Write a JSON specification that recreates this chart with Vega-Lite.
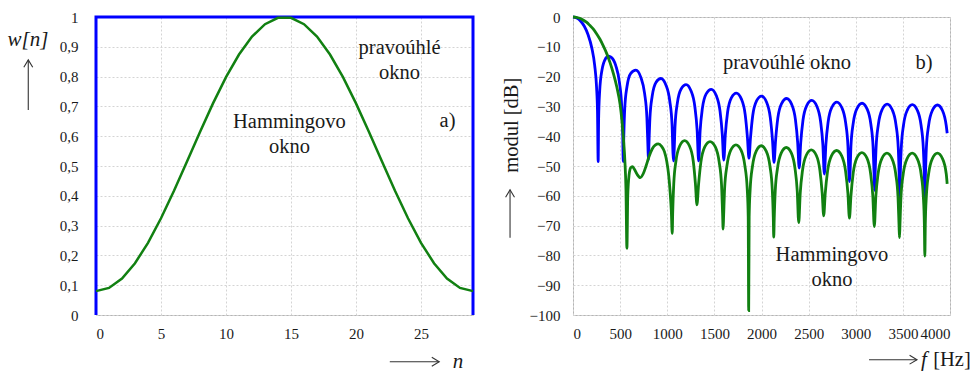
{
"$schema":"https://vega.github.io/schema/vega-lite/v6.json",
"padding":{"left":7,"top":9,"right":0,"bottom":0},
"spacing":21,
"config":{
 "font":"Liberation Serif",
 "view":{"stroke":"#b4b4b4","strokeWidth":1},
 "axis":{"labelFont":"Liberation Serif","labelFontSize":15,"labelColor":"#1a1a1a","labelOverlap":false,"ticks":false,"tickSize":0,"domain":false,"grid":true,"gridColor":"#d4d4d4","gridDash":[2,2],"gridWidth":1},
 "text":{"font":"Liberation Serif","color":"#1a1a1a"}
},
"datasets":{
 "win":[
  {"n":0,"w":0,"s":"r","i":0},{"n":0,"w":1,"s":"r","i":1},{"n":29,"w":1,"s":"r","i":2},{"n":29,"w":0,"s":"r","i":3},
  {"n":0,"w":0.08,"s":"h","i":0},{"n":1,"w":0.0908,"s":"h","i":1},{"n":2,"w":0.1225,"s":"h","i":2},{"n":3,"w":0.1738,"s":"h","i":3},{"n":4,"w":0.2422,"s":"h","i":4},{"n":5,"w":0.3246,"s":"h","i":5},{"n":6,"w":0.4169,"s":"h","i":6},{"n":7,"w":0.5151,"s":"h","i":7},{"n":8,"w":0.6144,"s":"h","i":8},{"n":9,"w":0.7102,"s":"h","i":9},{"n":10,"w":0.7981,"s":"h","i":10},{"n":11,"w":0.874,"s":"h","i":11},{"n":12,"w":0.9342,"s":"h","i":12},{"n":13,"w":0.9759,"s":"h","i":13},{"n":14,"w":0.9973,"s":"h","i":14},{"n":15,"w":0.9973,"s":"h","i":15},{"n":16,"w":0.9759,"s":"h","i":16},{"n":17,"w":0.9342,"s":"h","i":17},{"n":18,"w":0.874,"s":"h","i":18},{"n":19,"w":0.7981,"s":"h","i":19},{"n":20,"w":0.7102,"s":"h","i":20},{"n":21,"w":0.6144,"s":"h","i":21},{"n":22,"w":0.5151,"s":"h","i":22},{"n":23,"w":0.4169,"s":"h","i":23},{"n":24,"w":0.3246,"s":"h","i":24},{"n":25,"w":0.2422,"s":"h","i":25},{"n":26,"w":0.1738,"s":"h","i":26},{"n":27,"w":0.1225,"s":"h","i":27},{"n":28,"w":0.0908,"s":"h","i":28},{"n":29,"w":0.08,"s":"h","i":29}
 ],
 "rect":[
  {"f":0,"db":0},{"f":40,"db":-0.32},{"f":80,"db":-1.33},{"f":120,"db":-3.11},{"f":160,"db":-5.94},{"f":200,"db":-10.45},{"f":230,"db":-16.21},{"f":250,"db":-23.56},{"f":260,"db":-31.8},{"f":267,"db":-48.5},
  {"f":272,"db":-34.1},{"f":283,"db":-24.9},{"f":307,"db":-17.84},{"f":347,"db":-13.87},{"f":373,"db":-13.17},{"f":400,"db":-13.43},{"f":453,"db":-16.26},{"f":493,"db":-22.02},{"f":517,"db":-30.15},{"f":528,"db":-39.84},{"f":533,"db":-48.5},
  {"f":539,"db":-39.98},{"f":549,"db":-30.68},{"f":573,"db":-23.33},{"f":613,"db":-18.88},{"f":667,"db":-17.8},{"f":720,"db":-20.26},{"f":760,"db":-25.74},{"f":784,"db":-33.71},{"f":795,"db":-43.33},{"f":800,"db":-48},
  {"f":805,"db":-43.41},{"f":816,"db":-34.04},{"f":840,"db":-26.59},{"f":880,"db":-21.95},{"f":933,"db":-20.63},{"f":987,"db":-22.91},{"f":1027,"db":-28.26},{"f":1051,"db":-36.15},{"f":1061,"db":-45.74},{"f":1067,"db":-48.3},
  {"f":1072,"db":-45.81},{"f":1083,"db":-36.39},{"f":1107,"db":-28.88},{"f":1147,"db":-24.14},{"f":1200,"db":-22.68},{"f":1253,"db":-24.86},{"f":1293,"db":-30.13},{"f":1317,"db":-37.97},{"f":1333,"db":-48.3},
  {"f":1349,"db":-38.16},{"f":1373,"db":-30.6},{"f":1413,"db":-25.8},{"f":1467,"db":-24.26},{"f":1520,"db":-26.37},{"f":1560,"db":-31.59},{"f":1584,"db":-39.4},{"f":1600,"db":-48},
  {"f":1616,"db":-39.55},{"f":1640,"db":-31.97},{"f":1680,"db":-27.12},{"f":1733,"db":-25.52},{"f":1787,"db":-27.57},{"f":1827,"db":-32.75},{"f":1851,"db":-40.54},{"f":1867,"db":-47.4},
  {"f":1883,"db":-40.66},{"f":1907,"db":-33.05},{"f":1947,"db":-28.18},{"f":2000,"db":-26.53},{"f":2053,"db":-28.54},{"f":2093,"db":-33.69},{"f":2117,"db":-41.46},{"f":2133,"db":-48.8},
  {"f":2149,"db":-41.56},{"f":2173,"db":-33.94},{"f":2213,"db":-29.03},{"f":2267,"db":-27.35},{"f":2320,"db":-29.33},{"f":2360,"db":-34.46},{"f":2384,"db":-42.21},{"f":2400,"db":-50.7},
  {"f":2416,"db":-42.29},{"f":2440,"db":-34.65},{"f":2480,"db":-29.73},{"f":2533,"db":-28.01},{"f":2587,"db":-29.96},{"f":2627,"db":-35.07},{"f":2651,"db":-42.81},{"f":2667,"db":-52.7},
  {"f":2683,"db":-42.87},{"f":2707,"db":-35.23},{"f":2747,"db":-30.28},{"f":2800,"db":-28.54},{"f":2853,"db":-30.47},{"f":2893,"db":-35.55},{"f":2917,"db":-43.28},{"f":2928,"db":-52.8},{"f":2933,"db":-55.2},
  {"f":2939,"db":-52.8},{"f":2949,"db":-43.33},{"f":2973,"db":-35.68},{"f":3013,"db":-30.71},{"f":3067,"db":-28.95},{"f":3120,"db":-30.85},{"f":3160,"db":-35.92},{"f":3184,"db":-43.64},{"f":3195,"db":-53.1},{"f":3200,"db":-58.2},
  {"f":3205,"db":-53.2},{"f":3216,"db":-43.68},{"f":3240,"db":-36.01},{"f":3280,"db":-31.03},{"f":3333,"db":-29.24},{"f":3387,"db":-31.12},{"f":3427,"db":-36.18},{"f":3451,"db":-43.89},{"f":3461,"db":-53.4},{"f":3467,"db":-61.9},
  {"f":3472,"db":-53.4},{"f":3483,"db":-43.91},{"f":3507,"db":-36.23},{"f":3547,"db":-31.24},{"f":3600,"db":-29.43},{"f":3653,"db":-31.29},{"f":3693,"db":-36.33},{"f":3717,"db":-44.03},{"f":3728,"db":-53.5},{"f":3733,"db":-61},
  {"f":3739,"db":-53.5},{"f":3749,"db":-44.05},{"f":3773,"db":-36.37},{"f":3813,"db":-31.36},{"f":3867,"db":-29.53},{"f":3920,"db":-31.38},{"f":3960,"db":-36.4},{"f":3970,"db":-39}
 ],
 "hamm":[
  {"f":0,"db":0},{"f":36,"db":-0.1},{"f":71,"db":-0.43},{"f":107,"db":-1.0},{"f":143,"db":-1.75},{"f":178,"db":-2.8},{"f":214,"db":-4.0},{"f":250,"db":-5.6},{"f":285,"db":-7.4},{"f":320,"db":-9.6},{"f":357,"db":-12.2},{"f":393,"db":-15.3},{"f":428,"db":-18.9},{"f":465,"db":-23.5},{"f":500,"db":-29.4},{"f":520,"db":-35},{"f":537,"db":-41.5},{"f":550,"db":-48},{"f":562,"db":-58},{"f":572,"db":-77.6},
  {"f":581,"db":-60},{"f":595,"db":-53},{"f":612,"db":-50.6},{"f":630,"db":-50.2},{"f":650,"db":-51},{"f":680,"db":-52.8},{"f":714,"db":-53.9},{"f":745,"db":-52.6},{"f":775,"db":-50},{"f":805,"db":-47},{"f":840,"db":-44.3},{"f":872,"db":-43},{"f":905,"db":-42.6},{"f":940,"db":-43.4},{"f":970,"db":-45.2},{"f":995,"db":-48.5},{"f":1015,"db":-53},{"f":1030,"db":-58.5},{"f":1043,"db":-65},{"f":1053,"db":-72.6},
  {"f":1058,"db":-65.5},{"f":1069,"db":-56},{"f":1092,"db":-48.4},{"f":1132,"db":-43.3},{"f":1184,"db":-41.5},{"f":1236,"db":-43.3},{"f":1276,"db":-48.4},{"f":1299,"db":-56},{"f":1315,"db":-63},
  {"f":1332,"db":-56.3},{"f":1357,"db":-48.7},{"f":1398,"db":-43.6},{"f":1454,"db":-41.8},{"f":1510,"db":-43.6},{"f":1551,"db":-48.7},{"f":1576,"db":-56.3},{"f":1587,"db":-65.8},{"f":1593,"db":-71.2},
  {"f":1598,"db":-66.9},{"f":1609,"db":-57.4},{"f":1634,"db":-49.8},{"f":1674,"db":-44.7},{"f":1729,"db":-42.9},{"f":1783,"db":-44.7},{"f":1823,"db":-49.8},{"f":1848,"db":-57.4},{"f":1859,"db":-66.9},{"f":1864,"db":-98.5},
  {"f":1869,"db":-67.2},{"f":1880,"db":-57.7},{"f":1904,"db":-50.1},{"f":1944,"db":-45},{"f":1997,"db":-43.2},{"f":2050,"db":-45},{"f":2090,"db":-50.1},{"f":2114,"db":-57.7},{"f":2125,"db":-67.2},{"f":2130,"db":-73.9},
  {"f":2135,"db":-67.8},{"f":2146,"db":-58.3},{"f":2170,"db":-50.7},{"f":2210,"db":-45.6},{"f":2263,"db":-43.8},{"f":2316,"db":-45.6},{"f":2355,"db":-50.7},{"f":2379,"db":-58.3},{"f":2395,"db":-69},
  {"f":2411,"db":-59.1},{"f":2435,"db":-51.5},{"f":2475,"db":-46.4},{"f":2528,"db":-44.6},{"f":2581,"db":-46.4},{"f":2620,"db":-51.5},{"f":2644,"db":-59.1},{"f":2660,"db":-66.7},
  {"f":2676,"db":-59.3},{"f":2701,"db":-51.7},{"f":2742,"db":-46.6},{"f":2797,"db":-44.8},{"f":2851,"db":-46.6},{"f":2892,"db":-51.7},{"f":2917,"db":-59.3},{"f":2933,"db":-67.5},
  {"f":2949,"db":-60},{"f":2973,"db":-52.4},{"f":3012,"db":-47.3},{"f":3065,"db":-45.5},{"f":3118,"db":-47.3},{"f":3157,"db":-52.4},{"f":3181,"db":-60},{"f":3197,"db":-70.3},
  {"f":3213,"db":-60.2},{"f":3237,"db":-52.6},{"f":3277,"db":-47.5},{"f":3331,"db":-45.7},{"f":3384,"db":-47.5},{"f":3424,"db":-52.6},{"f":3448,"db":-60.2},{"f":3459,"db":-69.7},{"f":3464,"db":-74},
  {"f":3469,"db":-69.7},{"f":3480,"db":-60.2},{"f":3504,"db":-52.6},{"f":3545,"db":-47.5},{"f":3599,"db":-45.7},{"f":3652,"db":-47.5},{"f":3693,"db":-52.6},{"f":3717,"db":-60.2},{"f":3728,"db":-69.7},{"f":3733,"db":-80.2},
  {"f":3738,"db":-69.7},{"f":3749,"db":-60.2},{"f":3773,"db":-52.6},{"f":3813,"db":-47.5},{"f":3867,"db":-45.7},{"f":3920,"db":-47.5},{"f":3960,"db":-52.6},{"f":3970,"db":-56}
 ],
 "labA":[
  {"n":23.35,"w":0.896,"t":"pravoúhlé\nokno","k":"txt"},
  {"n":14.88,"w":0.648,"t":"Hammingovo\nokno","k":"txt"},
  {"n":27.04,"w":0.65,"t":"a)","k":"txt"},
  {"n":-5.23,"w":0.923,"t":"w[n]","k":"it"},
  {"n":27.85,"w":-0.157,"t":"n","k":"it"}
 ],
 "arrA":[
  {"n":22.6,"n2":26.4,"w":-0.157,"w2":-0.157,"d":"h"},
  {"n":-5.21,"n2":-5.21,"w":0.688,"w2":0.856,"d":"v"}
 ],
 "labB":[
  {"f":2270,"db":-15.4,"t":"pravoúhlé okno","k":"txt"},
  {"f":3724,"db":-15.4,"t":"b)","k":"txt"},
  {"f":2748,"db":-79.8,"t":"Hammingovo\nokno","k":"txt"},
  {"f":4021,"db":-115,"t":"[Hz]","k":"txt"},
  {"f":3724,"db":-115,"t":"f","k":"it"},
  {"f":-647,"db":-36.3,"t":"modul [dB]","k":"vt"}
 ],
 "arrB":[
  {"f":3141,"f2":3650,"db":-115,"db2":-115,"d":"h"},
  {"f":-668,"f2":-668,"db":-74.1,"db2":-58,"d":"v"}
 ]
},
"hconcat":[
 {
  "width":377,"height":298,
  "layer":[
   {"data":{"name":"win"},"transform":[{"filter":"datum.s=='r'"}],
    "mark":{"type":"line","color":"#0000ff","strokeWidth":3},
    "encoding":{
     "x":{"field":"n","type":"quantitative","scale":{"domain":[0,29],"nice":false,"zero":false},"axis":{"values":[0,5,10,15,20,25],"title":null,"labelPadding":11,"labelFont":"Liberation Serif","labelFontSize":15,"labelColor":"#1a1a1a","labelOverlap":false,"ticks":false,"tickSize":0,"domain":false,"grid":true,"gridColor":"#d4d4d4","gridDash":[2,2],"gridWidth":1}},
     "y":{"field":"w","type":"quantitative","scale":{"domain":[0,1],"nice":false},"axis":{"values":[0,0.1,0.2,0.3,0.4,0.5,0.6,0.7,0.8,0.9,1],"tickCount":11,"title":null,"labelPadding":18,"labelFont":"Liberation Serif","labelFontSize":15,"labelColor":"#1a1a1a","labelOverlap":false,"ticks":false,"tickSize":0,"domain":false,"grid":true,"gridColor":"#d4d4d4","gridDash":[2,2],"gridWidth":1,"labelExpr":"replace(format(datum.value,'~g'),'.',',')"}},
     "order":{"field":"i"}}},
   {"data":{"name":"win"},"transform":[{"filter":"datum.s=='h'"}],
    "mark":{"type":"line","color":"#118011","strokeWidth":2.5},
    "encoding":{"x":{"field":"n","type":"quantitative"},"y":{"field":"w","type":"quantitative"},"order":{"field":"i"}}},
   {"data":{"name":"labA"},"transform":[{"filter":"datum.k=='txt'"}],
    "mark":{"type":"text","font":"Liberation Serif","fontSize":20.5,"lineBreak":"\n","lineHeight":25,"color":"#1a1a1a"},
    "encoding":{"x":{"field":"n","type":"quantitative"},"y":{"field":"w","type":"quantitative"},"text":{"field":"t"}}},
   {"data":{"name":"labA"},"transform":[{"filter":"datum.k=='it'"}],
    "mark":{"type":"text","font":"Liberation Serif","fontSize":21,"fontStyle":"italic","color":"#1a1a1a"},
    "encoding":{"x":{"field":"n","type":"quantitative"},"y":{"field":"w","type":"quantitative"},"text":{"field":"t"}}},
   {"data":{"name":"arrA"},
    "mark":{"type":"rule","color":"#333333","strokeWidth":1.1},
    "encoding":{"x":{"field":"n","type":"quantitative"},"x2":{"field":"n2"},"y":{"field":"w","type":"quantitative"},"y2":{"field":"w2"}}},
   {"data":{"name":"arrA"},"transform":[{"filter":"datum.d=='h'"}],
    "mark":{"type":"point","shape":"M-1,-0.6L0,0L-1,0.6","size":220,"filled":false,"color":"#333333","strokeWidth":1.1,"opacity":1},
    "encoding":{"x":{"field":"n2","type":"quantitative"},"y":{"field":"w2","type":"quantitative"}}},
   {"data":{"name":"arrA"},"transform":[{"filter":"datum.d=='v'"}],
    "mark":{"type":"point","shape":"M-1,-0.6L0,0L-1,0.6","size":220,"filled":false,"angle":270,"color":"#333333","strokeWidth":1.1,"opacity":1},
    "encoding":{"x":{"field":"n2","type":"quantitative"},"y":{"field":"w2","type":"quantitative"}}}
  ]
 },
 {
  "width":377,"height":298,
  "layer":[
   {"data":{"name":"rect"},
    "mark":{"type":"line","color":"#0000ff","strokeWidth":2.8,"interpolate":"monotone"},
    "encoding":{
     "x":{"field":"f","type":"quantitative","scale":{"domain":[0,4000],"nice":false},"axis":{"values":[0,500,1000,1500,2000,2500,3000,3500,4000],"format":"d","title":null,"labelPadding":11,"labelFont":"Liberation Serif","labelFontSize":15,"labelColor":"#1a1a1a","labelOverlap":false,"ticks":false,"tickSize":0,"domain":false,"grid":true,"gridColor":"#d4d4d4","gridDash":[2,2],"gridWidth":1}},
     "y":{"field":"db","type":"quantitative","scale":{"domain":[-100,0],"nice":false},"axis":{"values":[-100,-90,-80,-70,-60,-50,-40,-30,-20,-10,0],"tickCount":11,"format":"d","title":null,"labelPadding":13,"labelFont":"Liberation Serif","labelFontSize":15,"labelColor":"#1a1a1a","labelOverlap":false,"ticks":false,"tickSize":0,"domain":false,"grid":true,"gridColor":"#d4d4d4","gridDash":[2,2],"gridWidth":1}}}},
   {"data":{"name":"hamm"},
    "mark":{"type":"line","color":"#118011","strokeWidth":2.8,"interpolate":"monotone"},
    "encoding":{"x":{"field":"f","type":"quantitative"},"y":{"field":"db","type":"quantitative"}}},
   {"data":{"name":"labB"},"transform":[{"filter":"datum.k=='txt'"}],
    "mark":{"type":"text","font":"Liberation Serif","fontSize":20.5,"lineBreak":"\n","lineHeight":25,"color":"#1a1a1a"},
    "encoding":{"x":{"field":"f","type":"quantitative"},"y":{"field":"db","type":"quantitative"},"text":{"field":"t"}}},
   {"data":{"name":"labB"},"transform":[{"filter":"datum.k=='it'"}],
    "mark":{"type":"text","font":"Liberation Serif","fontSize":21,"fontStyle":"italic","color":"#1a1a1a"},
    "encoding":{"x":{"field":"f","type":"quantitative"},"y":{"field":"db","type":"quantitative"},"text":{"field":"t"}}},
   {"data":{"name":"labB"},"transform":[{"filter":"datum.k=='vt'"}],
    "mark":{"type":"text","font":"Liberation Serif","fontSize":20.5,"angle":270,"color":"#1a1a1a"},
    "encoding":{"x":{"field":"f","type":"quantitative"},"y":{"field":"db","type":"quantitative"},"text":{"field":"t"}}},
   {"data":{"name":"arrB"},
    "mark":{"type":"rule","color":"#333333","strokeWidth":1.1},
    "encoding":{"x":{"field":"f","type":"quantitative"},"x2":{"field":"f2"},"y":{"field":"db","type":"quantitative"},"y2":{"field":"db2"}}},
   {"data":{"name":"arrB"},"transform":[{"filter":"datum.d=='h'"}],
    "mark":{"type":"point","shape":"M-1,-0.6L0,0L-1,0.6","size":220,"filled":false,"color":"#333333","strokeWidth":1.1,"opacity":1},
    "encoding":{"x":{"field":"f2","type":"quantitative"},"y":{"field":"db2","type":"quantitative"}}},
   {"data":{"name":"arrB"},"transform":[{"filter":"datum.d=='v'"}],
    "mark":{"type":"point","shape":"M-1,-0.6L0,0L-1,0.6","size":220,"filled":false,"angle":270,"color":"#333333","strokeWidth":1.1,"opacity":1},
    "encoding":{"x":{"field":"f2","type":"quantitative"},"y":{"field":"db2","type":"quantitative"}}}
  ]
 }
]
}
